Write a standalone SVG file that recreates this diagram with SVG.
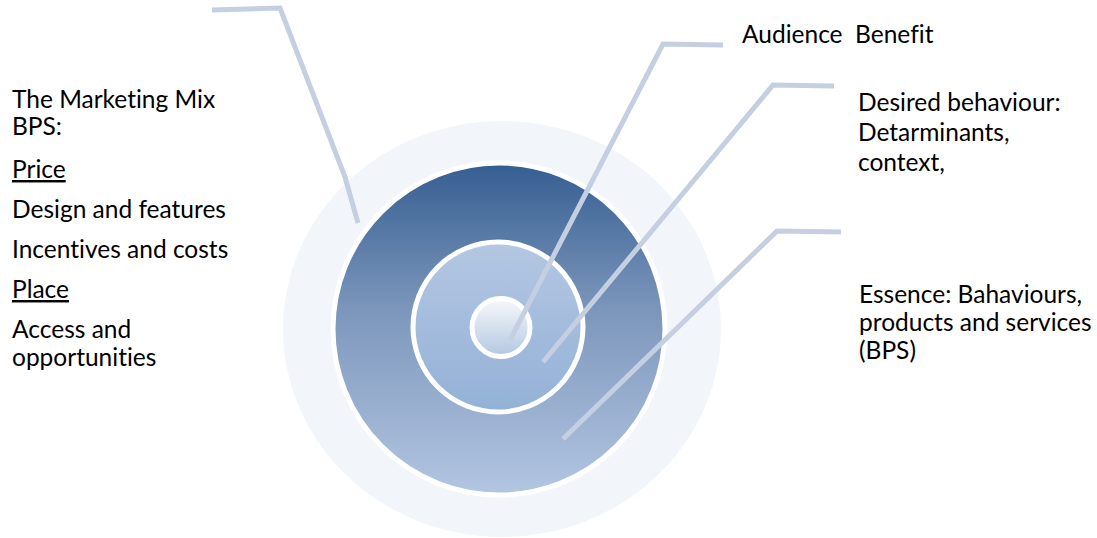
<svg xmlns="http://www.w3.org/2000/svg" width="1097" height="538" viewBox="0 0 1097 538">
<style>
.t{font-family:Lato,"Liberation Sans",sans-serif;font-size:24.5px;fill:#000;font-variant-ligatures:none}
.u{text-decoration:underline}
.ln{fill:none;stroke:#C4CFE2;stroke-width:5;stroke-linejoin:miter}
</style>
<defs>
<linearGradient id="gBig" x1="0" y1="0" x2="0" y2="1">
<stop offset="0" stop-color="#355E91"/>
<stop offset="0.45" stop-color="#7D97BC"/>
<stop offset="1" stop-color="#B3C6E2"/>
</linearGradient>
<linearGradient id="gMid" x1="0" y1="0" x2="0" y2="1">
<stop offset="0" stop-color="#B4C7E2"/>
<stop offset="1" stop-color="#93B1D7"/>
</linearGradient>
<linearGradient id="gIn" x1="0" y1="0" x2="0" y2="1">
<stop offset="0" stop-color="#F7F9FC"/>
<stop offset="1" stop-color="#B3C7E1"/>
</linearGradient>
</defs>
<rect width="1097" height="538" fill="#FFFFFF"/>
<g id="outer-ring"><ellipse cx="502" cy="329" rx="219" ry="208" fill="#F2F6FB"/></g>
<g id="essence-circle"><circle cx="499" cy="329" r="166" fill="url(#gBig)" stroke="#FFFFFF" stroke-width="5"/></g>
<g id="behaviour-circle"><circle cx="498" cy="327" r="85" fill="url(#gMid)" stroke="#FFFFFF" stroke-width="5"/></g>
<g id="benefit-circle"><circle cx="501" cy="327.5" r="29" fill="url(#gIn)" stroke="#FFFFFF" stroke-width="5"/></g>
<g id="connectors">
<polyline class="ln" points="212,10 280,8 345,177 358,223"/>
<polyline class="ln" points="723,45 663,44 510,340"/>
<polyline class="ln" points="834,86 773,85 543,362"/>
<polyline class="ln" points="841,232 777,231 563,439"/>
</g>
<g id="label-mix">
<text class="t" x="12" y="108">The Marketing Mix</text>
<text class="t" x="12" y="135">BPS:</text>
<text class="t u" x="12" y="178">Price</text>
<text class="t" x="12" y="218">Design and features</text>
<text class="t" x="12" y="258">Incentives and costs</text>
<text class="t u" x="12" y="298">Place</text>
<text class="t" x="12" y="338">Access and</text>
<text class="t" x="12" y="366">opportunities</text>
</g>
<g id="label-benefit">
<text class="t" x="742" y="43" xml:space="preserve">Audience  Benefit</text>
</g>
<g id="label-behaviour">
<text class="t" x="858" y="111">Desired behaviour:</text>
<text class="t" x="858" y="141">Detarminants,</text>
<text class="t" x="858" y="171">context,</text>
</g>
<g id="label-essence">
<text class="t" x="859" y="303">Essence: Bahaviours,</text>
<text class="t" x="859" y="331">products and services</text>
<text class="t" x="859" y="359">(BPS)</text>
</g>
</svg>
